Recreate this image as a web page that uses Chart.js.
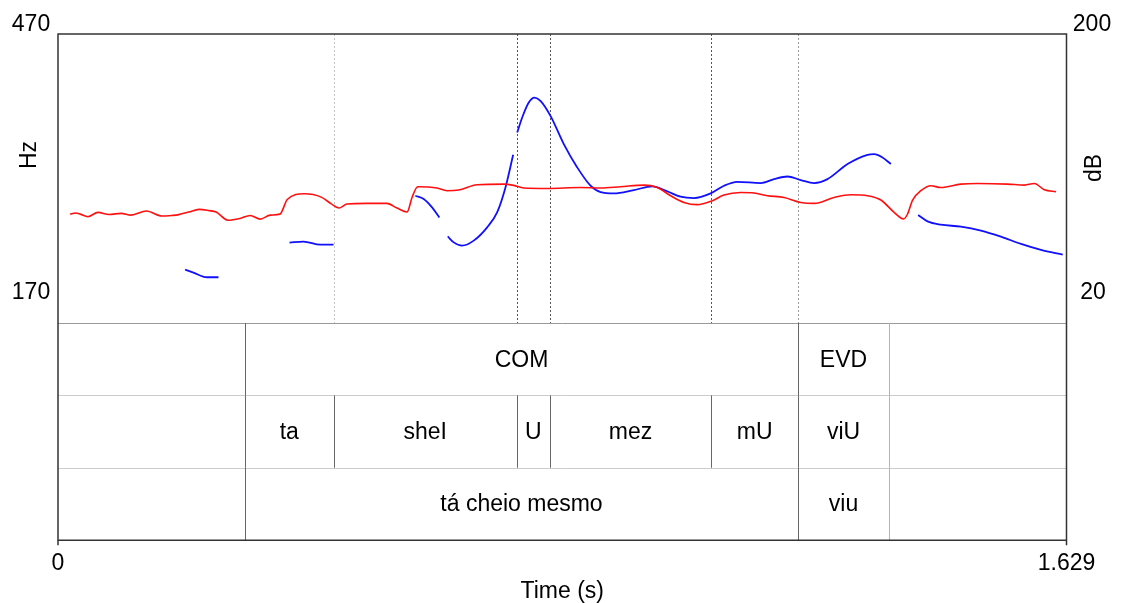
<!DOCTYPE html>
<html>
<head>
<meta charset="utf-8">
<script src="https://cdn.jsdelivr.net/npm/chart.js@4.4.1/dist/chart.umd.min.js"></script>
<style>
  html, body { margin: 0; padding: 0; background: #ffffff; }
  canvas { display: block; }
</style>
</head>
<body>
<canvas id="praatChart" width="1121" height="603"></canvas>
<script>
/* ---------------- DATA ---------------- */

const totalTime = 1.629;

// intensity contour (red, dB axis)
const intensityTime = [
    0.0197, 0.0280, 0.0361, 0.0482, 0.0647, 0.0825, 0.1019, 0.1180, 0.1429, 0.1677,
    0.1843, 0.1950, 0.2115, 0.2280, 0.2441, 0.2555, 0.2745, 0.2938, 0.3104, 0.3266,
    0.3428, 0.3585, 0.3703, 0.3978, 0.4252, 0.4414, 0.4537, 0.4668, 0.4991, 0.5315,
    0.5476, 0.5638, 0.5719, 0.5810, 0.6123, 0.6285, 0.6472, 0.6770, 0.7200, 0.7362,
    0.7523, 0.7902, 0.8440, 0.8764, 0.9087, 0.9464, 0.9680, 0.9895, 1.0111, 1.0327,
    1.0570, 1.0757, 1.1027, 1.1242, 1.1459, 1.1727, 1.1997, 1.2213, 1.2536, 1.2806,
    1.3076, 1.3291, 1.3506, 1.3658, 1.3723, 1.3804, 1.3938, 1.4099, 1.4261, 1.4584,
    1.4855, 1.5340, 1.5608, 1.5770, 1.5931, 1.6121
];
const intensityDb = [
    87.8, 88.5, 87.8, 86.2, 88.9, 87.6, 88.3, 87.2, 89.8, 86.6,
    87.0, 87.5, 89.1, 90.8, 90.0, 89.1, 84.0, 85.1, 87.0, 84.7,
    87.2, 87.8, 96.9, 100.5, 98.4, 94.2, 91.6, 94.1, 94.5, 94.5,
    91.6, 89.1, 98.2, 104.9, 104.1, 102.4, 102.8, 106.1, 106.5, 105.7,
    104.1, 103.8, 104.4, 104.1, 104.9, 105.9, 104.4, 99.3, 95.1, 93.7,
    96.2, 99.7, 101.3, 101.0, 99.3, 98.2, 95.1, 94.5, 98.2, 99.9,
    99.3, 96.6, 88.9, 84.8, 87.9, 96.6, 102.4, 105.5, 104.4, 106.5,
    106.9, 106.5, 105.9, 106.9, 103.0, 101.8
];

// pitch contour (blue, Hz axis); null = unvoiced gap
const pitchTime = [
    0.2053, 0.2188, 0.2404, 0.2592, 0.3100,
    0.3740, 0.3966, 0.4236, 0.4451, 0.5100,
    0.5772, 0.5907, 0.6042, 0.6160, 0.6228,
    0.6295, 0.6392, 0.6527, 0.6715, 0.6932, 0.7093, 0.7228, 0.7352, 0.7385,
    0.7417, 0.7498, 0.7604, 0.7696, 0.7793, 0.7955, 0.8170, 0.8387, 0.8602, 0.8764,
    0.8979, 0.9302, 0.9600, 0.9842, 1.0057, 1.0272, 1.0542, 1.0757, 1.0974, 1.1351,
    1.1566, 1.1782, 1.1997, 1.2213, 1.2429, 1.2753, 1.3076, 1.3183, 1.3318, 1.3453,
    1.3600,
    1.3894, 1.4046, 1.4261, 1.4584, 1.4908, 1.5231, 1.5555, 1.5878, 1.6229
];
const pitchHz = [
    225.4, 222.3, 217.5, 217.5, null,
    253.4, 254.5, 251.3, 251.3, null,
    302.1, 298.7, 290.0, 279.6, null,
    259.9, 253.7, 250.3, 255.5, 269.3, 284.8, 310.7, 344.6, null,
    367.7, 383.3, 398.8, 404.0, 400.6, 385.0, 355.7, 331.5, 312.5, 305.8,
    304.5, 308.0, 311.8, 306.6, 301.1, 299.7, 304.5, 312.5, 316.6, 315.3,
    319.4, 322.1, 318.4, 315.3, 319.4, 335.0, 344.6, 345.3, 341.8, 335.0,
    null,
    282.1, 275.5, 272.1, 270.0, 265.9, 259.6, 252.1, 245.9, 241.0
];

// text grid tiers
const tier1Edges = [0, 0.3016, 1.1957, 1.3419, totalTime];
const tier1Labels = ["", "COM", "EVD", ""];
const tier2Edges = [0, 0.3016, 0.4454, 0.7410, 0.7943, 1.0552, 1.1957, 1.3419, totalTime];
const tier2Labels = ["", "ta", "sheI", "U", "mez", "mU", "viU", ""];
const tier3Edges = [0, 0.3016, 1.1957, 1.3419, totalTime];
const tier3Labels = ["", "tá cheio mesmo", "viu", ""];

// dotted marks in the pitch window
const markTimes = [0.4454, 0.7410, 0.7943, 1.0552, 1.1957];
const markColors = ["#c4c4c4", "#555555", "#555555", "#555555", "#999999"];

const hzRange = [170, 470];
const dbRange = [20, 200];

/* ---------------- PLUGIN: frame, marks, tiers ---------------- */

const FONT = "23px 'Liberation Sans', Arial, sans-serif";
const TIER_H = 72.4;

function line(ctx, x1, y1, x2, y2, color, dash) {
    ctx.save();
    ctx.strokeStyle = color;
    ctx.lineWidth = 1;
    ctx.setLineDash(dash || []);
    ctx.beginPath();
    ctx.moveTo(x1, y1);
    ctx.lineTo(x2, y2);
    ctx.stroke();
    ctx.restore();
}

const praatPlugin = {
    id: "praat",

    beforeDatasetsDraw(chart) {
        const { ctx, chartArea, scales } = chart;
        markTimes.forEach((t, i) => {
            const x = Math.round(scales.x.getPixelForValue(t)) + 0.5;
            line(ctx, x, chartArea.top, x, chartArea.bottom, markColors[i], [2, 2]);
        });
    },

    afterDraw(chart) {
        const { ctx, chartArea, scales } = chart;
        const left = chartArea.left, right = chartArea.right;
        const top = chartArea.top, pitchBottom = chartArea.bottom;
        const tiers = [
            [tier1Edges, tier1Labels],
            [tier2Edges, tier2Labels],
            [tier3Edges, tier3Labels]
        ];
        const gridBottom = pitchBottom + TIER_H * tiers.length;

        // tier separators
        line(ctx, left, Math.round(pitchBottom) + 0.5, right, Math.round(pitchBottom) + 0.5, "#9a9a9a");
        for (let k = 1; k < tiers.length; k++) {
            const y = Math.round(pitchBottom + TIER_H * k) + 0.5;
            line(ctx, left, y, right, y, "#cccccc");
        }

        ctx.save();
        ctx.font = FONT;
        ctx.fillStyle = "#000000";
        ctx.textAlign = "center";
        ctx.textBaseline = "middle";

        tiers.forEach(([edges, labels], k) => {
            const y0 = pitchBottom + TIER_H * k;
            const y1 = y0 + TIER_H;
            for (let i = 1; i < edges.length - 1; i++) {
                const x = Math.round(scales.x.getPixelForValue(edges[i])) + 0.5;
                const col = edges[i] === 1.3419 ? "#b4b4b4" : "#666666";
                line(ctx, x, y0, x, y1, col);
            }
            labels.forEach((lab, i) => {
                if (!lab) return;
                const xa = scales.x.getPixelForValue(edges[i]);
                const xb = scales.x.getPixelForValue(edges[i + 1]);
                ctx.fillText(lab, (xa + xb) / 2, (y0 + y1) / 2 + 1);
            });
        });

        // outer frame
        ctx.strokeStyle = "#333333";
        ctx.lineWidth = 1.5;
        ctx.beginPath();
        ctx.moveTo(left, gridBottom + 5);
        ctx.lineTo(left, top);
        ctx.lineTo(right, top);
        ctx.lineTo(right, gridBottom + 5);
        ctx.moveTo(left, gridBottom);
        ctx.lineTo(right, gridBottom);
        ctx.stroke();

        // axis labels
        ctx.fillText(String(hzRange[1]), 31, 25);
        ctx.fillText(String(hzRange[0]), 31, 293);
        ctx.fillText(String(dbRange[1]), 1092, 25);
        ctx.fillText(String(dbRange[0]), 1093, 293);
        ctx.fillText("0", left, gridBottom + 23);
        ctx.fillText(String(totalTime), right, gridBottom + 23);
        ctx.fillText("Time (s)", (left + right) / 2, gridBottom + 51);

        ctx.save();
        ctx.translate(30, 155);
        ctx.rotate(-Math.PI / 2);
        ctx.fillText("Hz", 0, 0);
        ctx.restore();

        ctx.save();
        ctx.translate(1095, 168);
        ctx.rotate(-Math.PI / 2);
        ctx.fillText("dB", 0, 0);
        ctx.restore();

        ctx.restore();
    }
};

/* ---------------- CHART ---------------- */

const ctx = document.getElementById("praatChart").getContext("2d");

new Chart(ctx, {
    type: "line",
    data: {
        datasets: [
            {
                label: "Intensity (dB)",
                data: intensityTime.map((t, i) => ({ x: t, y: intensityDb[i] })),
                yAxisID: "yDb",
                borderColor: "#ff1010",
                borderWidth: 1.6,
                pointRadius: 0,
                cubicInterpolationMode: "monotone",
                fill: false
            },
            {
                label: "Pitch (Hz)",
                data: pitchTime.map((t, i) => ({ x: t, y: pitchHz[i] })),
                yAxisID: "yHz",
                borderColor: "#1010ff",
                borderWidth: 1.8,
                pointRadius: 0,
                spanGaps: false,
                cubicInterpolationMode: "monotone",
                fill: false
            }
        ]
    },
    options: {
        responsive: false,
        animation: false,
        layout: {
            padding: { left: 58, right: 54.5, top: 34, bottom: 280 }
        },
        plugins: {
            legend: { display: false },
            tooltip: { enabled: false }
        },
        scales: {
            x: { type: "linear", min: 0, max: totalTime, display: false },
            yHz: { type: "linear", min: hzRange[0], max: hzRange[1], display: false },
            yDb: { type: "linear", min: dbRange[0], max: dbRange[1], display: false }
        }
    },
    plugins: [praatPlugin]
});
</script>
</body>
</html>
